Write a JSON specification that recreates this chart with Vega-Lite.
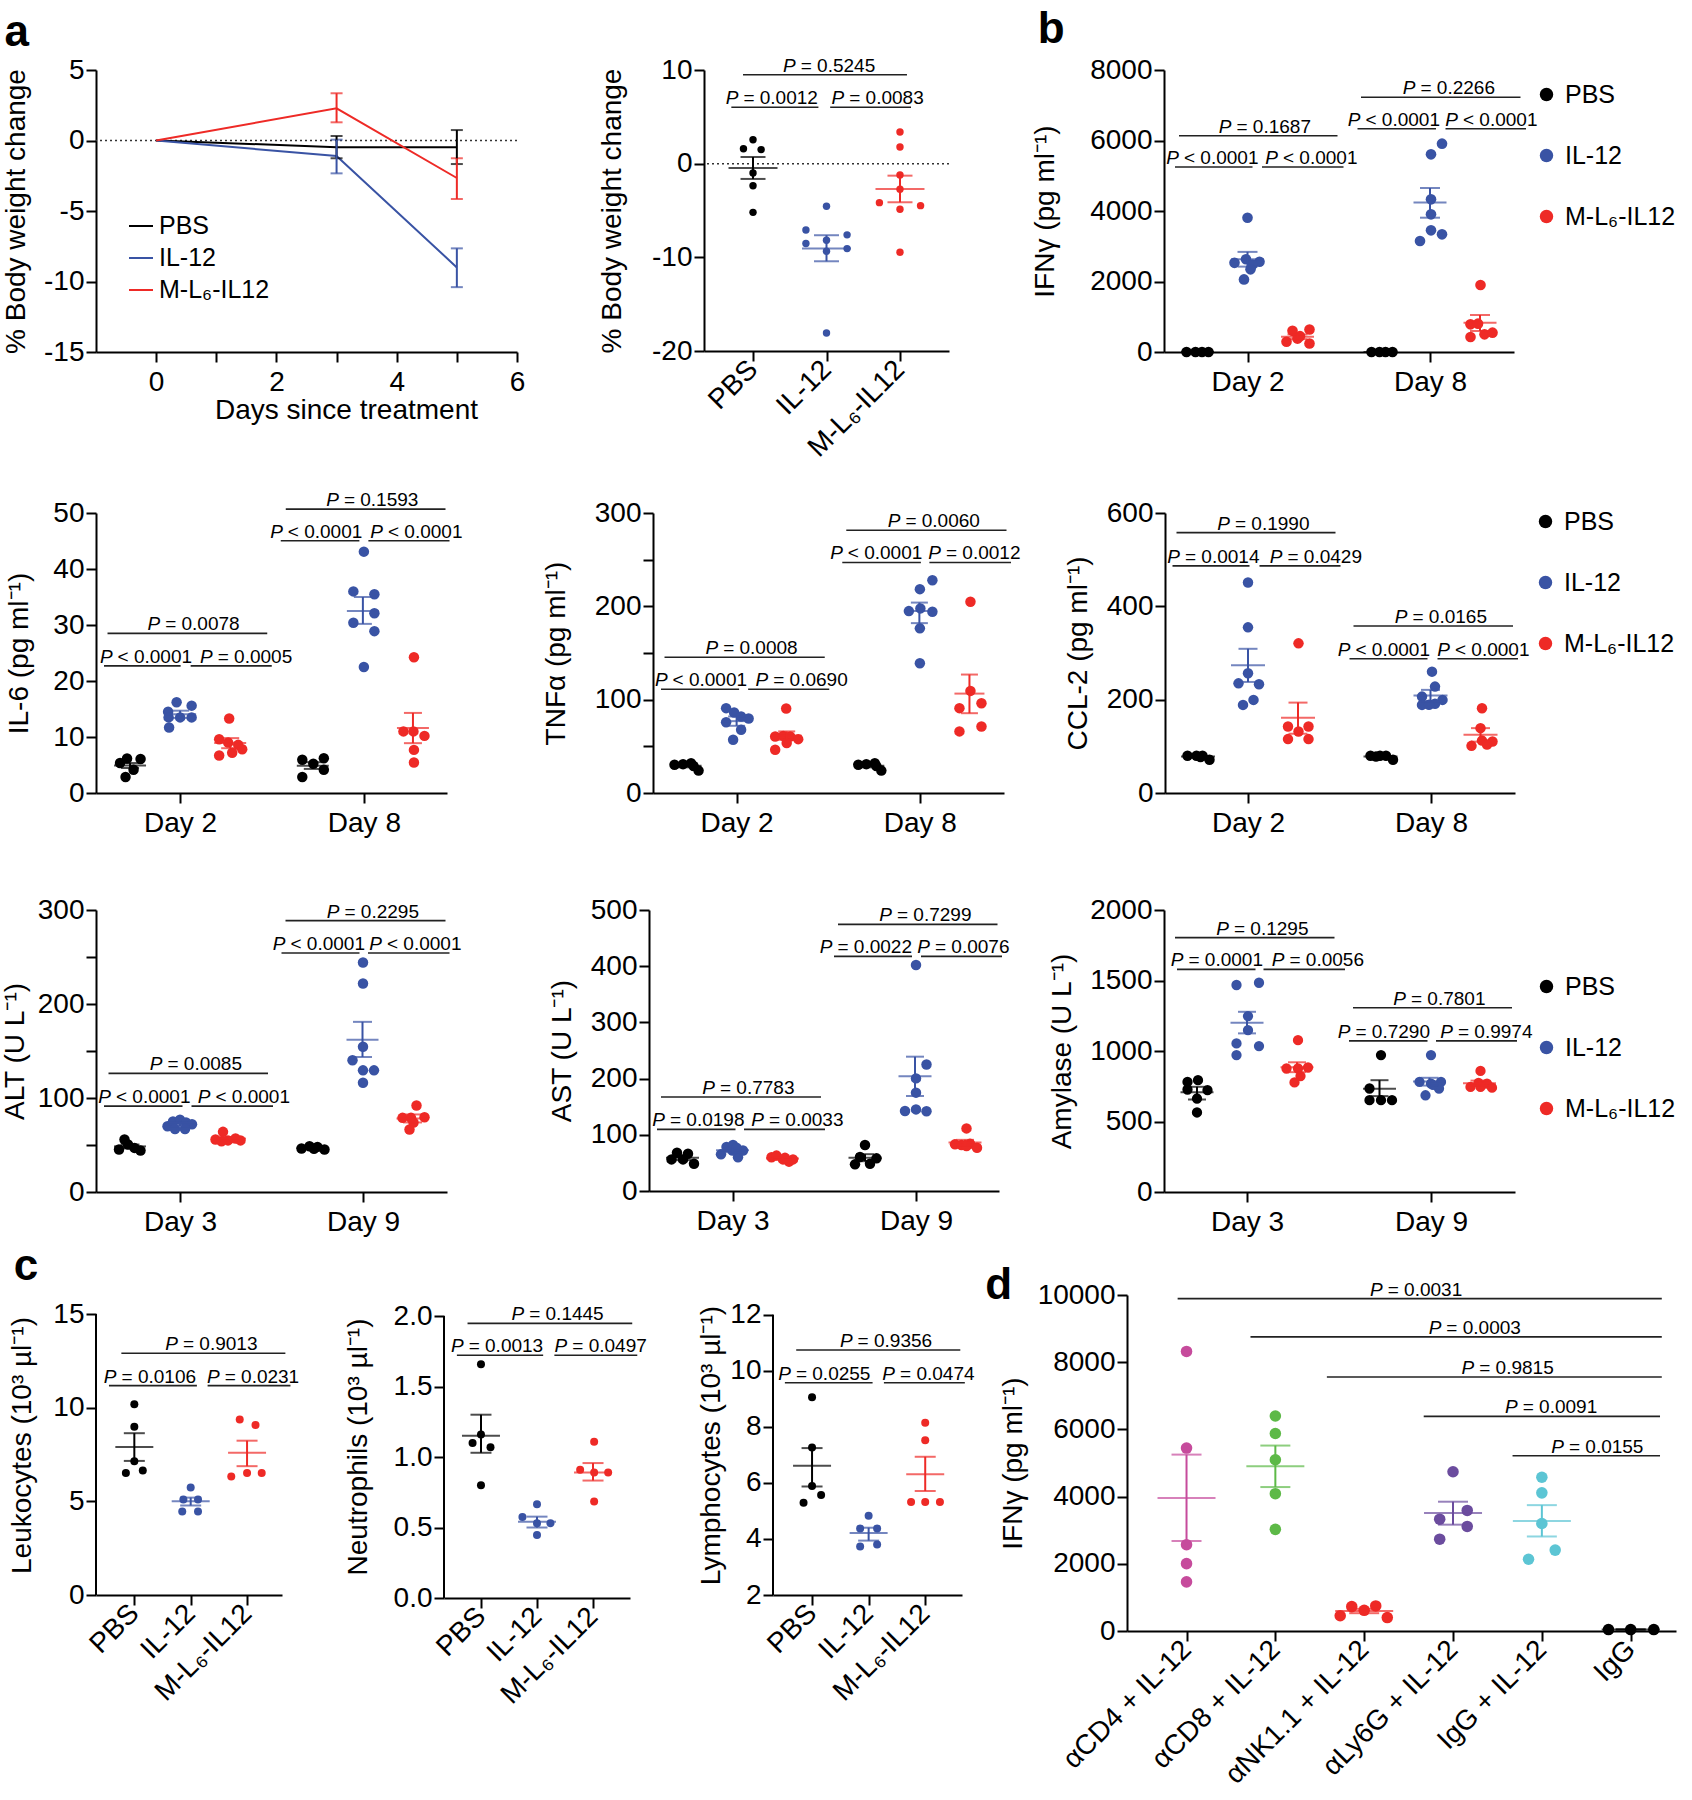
{
"$schema":"https://vega.github.io/schema/vega-lite/v6.json",
"background":"white",
"padding":{"left":1,"top":8,"right":5,"bottom":5},
"config":{
 "view":{"stroke":null},
 "font":"Liberation Sans",
 "axis":{"domainColor":"#000","domainWidth":2,"tickColor":"#000","tickWidth":2,"tickSize":10,"labelFont":"Liberation Sans","labelFontSize":28,"labelColor":"#000","labelPadding":2,"labelFlush":false,"labelOverlap":false,"labelBound":false,"labelLimit":600,"titleFont":"Liberation Sans","titleFontSize":28,"titleFontWeight":"normal","titleColor":"#000","grid":false},
 "axisX":{"labelPadding":6},
 "axisY":{"titlePadding":10},
 "legend":{"labelFont":"Liberation Sans","labelFontSize":25,"labelColor":"#000","padding":0},
 "title":{"font":"Liberation Sans","fontSize":44,"fontWeight":"bold","anchor":"start","frame":"bounds","color":"#000"}
},
"datasets":{
"pts":[
{"p":"a2","g":"P","x":1.0,"v":2.55},{"p":"a2","g":"P","x":0.87,"v":1.6},{"p":"a2","g":"P","x":1.11,"v":1.5},{"p":"a2","g":"P","x":1.0,"v":-1.0},{"p":"a2","g":"P","x":1.0,"v":-2.35},{"p":"a2","g":"P","x":1.0,"v":-5.2},
{"p":"a2","g":"I","x":2.0,"v":-4.55},{"p":"a2","g":"I","x":1.72,"v":-7.08},{"p":"a2","g":"I","x":2.28,"v":-7.6},{"p":"a2","g":"I","x":1.72,"v":-8.53},{"p":"a2","g":"I","x":2.0,"v":-8.18},{"p":"a2","g":"I","x":2.0,"v":-9.35},{"p":"a2","g":"I","x":2.28,"v":-9.07},{"p":"a2","g":"I","x":2.0,"v":-18.07},
{"p":"a2","g":"M","x":3.0,"v":3.38},{"p":"a2","g":"M","x":3.0,"v":1.78},{"p":"a2","g":"M","x":3.0,"v":-1.21},{"p":"a2","g":"M","x":3.0,"v":-2.73},{"p":"a2","g":"M","x":2.72,"v":-4.16},{"p":"a2","g":"M","x":3.28,"v":-4.48},{"p":"a2","g":"M","x":3.0,"v":-4.87},{"p":"a2","g":"M","x":3.0,"v":-9.46},
{"p":"b","g":"P","x":0.78,"v":0},{"p":"b","g":"P","x":0.96,"v":0},{"p":"b","g":"P","x":1.09,"v":0},{"p":"b","g":"P","x":1.22,"v":0},
{"p":"b","g":"I","x":2.0,"v":3810},{"p":"b","g":"I","x":1.74,"v":2530},{"p":"b","g":"I","x":1.97,"v":2630},{"p":"b","g":"I","x":2.24,"v":2560},{"p":"b","g":"I","x":2.1,"v":2480},{"p":"b","g":"I","x":2.06,"v":2345},{"p":"b","g":"I","x":1.93,"v":2060},
{"p":"b","g":"M","x":2.9,"v":600},{"p":"b","g":"M","x":3.24,"v":640},{"p":"b","g":"M","x":2.78,"v":290},{"p":"b","g":"M","x":3.05,"v":450},{"p":"b","g":"M","x":3.24,"v":240},{"p":"b","g":"M","x":3.0,"v":380},
{"p":"b","g":"P","x":4.48,"v":0},{"p":"b","g":"P","x":4.64,"v":0},{"p":"b","g":"P","x":4.76,"v":0},{"p":"b","g":"P","x":4.9,"v":0},
{"p":"b","g":"I","x":5.89,"v":5910},{"p":"b","g":"I","x":5.67,"v":5607},{"p":"b","g":"I","x":5.67,"v":4331},{"p":"b","g":"I","x":5.67,"v":3905},{"p":"b","g":"I","x":5.67,"v":3452},{"p":"b","g":"I","x":5.89,"v":3338},{"p":"b","g":"I","x":5.45,"v":3149},
{"p":"b","g":"M","x":6.66,"v":1901},{"p":"b","g":"M","x":6.46,"v":785},{"p":"b","g":"M","x":6.61,"v":804},{"p":"b","g":"M","x":6.46,"v":425},{"p":"b","g":"M","x":6.74,"v":501},{"p":"b","g":"M","x":6.9,"v":548},
{"p":"il6","g":"P","x":0.8,"v":5.35},{"p":"il6","g":"P","x":0.94,"v":6.17},{"p":"il6","g":"P","x":1.21,"v":6.06},{"p":"il6","g":"P","x":1.07,"v":4.16},{"p":"il6","g":"P","x":0.91,"v":2.85},
{"p":"il6","g":"I","x":1.93,"v":16.2},{"p":"il6","g":"I","x":1.76,"v":14.5},{"p":"il6","g":"I","x":2.23,"v":15.6},{"p":"il6","g":"I","x":1.77,"v":13.5},{"p":"il6","g":"I","x":2.0,"v":13.5},{"p":"il6","g":"I","x":2.23,"v":13.5},{"p":"il6","g":"I","x":1.78,"v":11.7},
{"p":"il6","g":"M","x":2.98,"v":13.3},{"p":"il6","g":"M","x":2.78,"v":9.6},{"p":"il6","g":"M","x":2.96,"v":9.0},{"p":"il6","g":"M","x":3.16,"v":8.6},{"p":"il6","g":"M","x":3.24,"v":7.8},{"p":"il6","g":"M","x":3.04,"v":7.2},{"p":"il6","g":"M","x":2.78,"v":6.7},
{"p":"il6","g":"P","x":4.44,"v":5.94},{"p":"il6","g":"P","x":4.66,"v":5.23},{"p":"il6","g":"P","x":4.87,"v":6.2},{"p":"il6","g":"P","x":4.87,"v":4.16},{"p":"il6","g":"P","x":4.44,"v":2.85},
{"p":"il6","g":"I","x":5.67,"v":43.1},{"p":"il6","g":"I","x":5.46,"v":36.0},{"p":"il6","g":"I","x":5.88,"v":35.5},{"p":"il6","g":"I","x":5.88,"v":32.1},{"p":"il6","g":"I","x":5.46,"v":30.4},{"p":"il6","g":"I","x":5.88,"v":28.9},{"p":"il6","g":"I","x":5.67,"v":22.5},
{"p":"il6","g":"M","x":6.67,"v":24.25},{"p":"il6","g":"M","x":6.46,"v":11.0},{"p":"il6","g":"M","x":6.66,"v":11.0},{"p":"il6","g":"M","x":6.88,"v":10.2},{"p":"il6","g":"M","x":6.67,"v":7.7},{"p":"il6","g":"M","x":6.67,"v":5.44},
{"p":"tnf","g":"P","x":0.76,"v":30.3},{"p":"tnf","g":"P","x":0.93,"v":30.9},{"p":"tnf","g":"P","x":1.09,"v":32},{"p":"tnf","g":"P","x":1.14,"v":29},{"p":"tnf","g":"P","x":1.24,"v":24},
{"p":"tnf","g":"I","x":1.79,"v":90.9},{"p":"tnf","g":"I","x":1.95,"v":86.2},{"p":"tnf","g":"I","x":2.09,"v":81.9},{"p":"tnf","g":"I","x":2.24,"v":79.8},{"p":"tnf","g":"I","x":1.79,"v":75.8},{"p":"tnf","g":"I","x":2.09,"v":67.7},{"p":"tnf","g":"I","x":1.93,"v":57},
{"p":"tnf","g":"M","x":2.99,"v":90.5},{"p":"tnf","g":"M","x":2.77,"v":60.5},{"p":"tnf","g":"M","x":2.93,"v":61.2},{"p":"tnf","g":"M","x":3.07,"v":60.5},{"p":"tnf","g":"M","x":3.23,"v":57.7},{"p":"tnf","g":"M","x":2.77,"v":46.4},{"p":"tnf","g":"M","x":3.0,"v":53.6},
{"p":"tnf","g":"P","x":4.43,"v":30.3},{"p":"tnf","g":"P","x":4.59,"v":30.9},{"p":"tnf","g":"P","x":4.76,"v":32},{"p":"tnf","g":"P","x":4.79,"v":29},{"p":"tnf","g":"P","x":4.89,"v":24},
{"p":"tnf","g":"I","x":5.91,"v":228},{"p":"tnf","g":"I","x":5.66,"v":218.4},{"p":"tnf","g":"I","x":5.44,"v":194.9},{"p":"tnf","g":"I","x":5.67,"v":197.8},{"p":"tnf","g":"I","x":5.91,"v":194.2},{"p":"tnf","g":"I","x":5.66,"v":176.4},{"p":"tnf","g":"I","x":5.66,"v":139},
{"p":"tnf","g":"M","x":6.67,"v":204.9},{"p":"tnf","g":"M","x":6.67,"v":109.4},{"p":"tnf","g":"M","x":6.45,"v":90.9},{"p":"tnf","g":"M","x":6.89,"v":96.2},{"p":"tnf","g":"M","x":6.89,"v":71.3},{"p":"tnf","g":"M","x":6.45,"v":66},
{"p":"ccl","g":"P","x":0.79,"v":79.8},{"p":"ccl","g":"P","x":0.97,"v":79.8},{"p":"ccl","g":"P","x":1.09,"v":79.8},{"p":"ccl","g":"P","x":1.23,"v":71.2},{"p":"ccl","g":"P","x":1.05,"v":77},
{"p":"ccl","g":"I","x":2.0,"v":451},{"p":"ccl","g":"I","x":2.0,"v":355},{"p":"ccl","g":"I","x":2.0,"v":256.6},{"p":"ccl","g":"I","x":1.81,"v":235},{"p":"ccl","g":"I","x":2.22,"v":233},{"p":"ccl","g":"I","x":2.11,"v":199.5},{"p":"ccl","g":"I","x":1.9,"v":188.8},
{"p":"ccl","g":"M","x":3.01,"v":320.7},{"p":"ccl","g":"M","x":2.8,"v":142.4},{"p":"ccl","g":"M","x":3.21,"v":142.4},{"p":"ccl","g":"M","x":3.01,"v":131.7},{"p":"ccl","g":"M","x":2.8,"v":115.5},{"p":"ccl","g":"M","x":3.21,"v":115.5},
{"p":"ccl","g":"P","x":4.45,"v":79.8},{"p":"ccl","g":"P","x":4.64,"v":79.8},{"p":"ccl","g":"P","x":4.76,"v":79.8},{"p":"ccl","g":"P","x":4.9,"v":71.2},{"p":"ccl","g":"P","x":4.56,"v":78},
{"p":"ccl","g":"I","x":5.68,"v":260},{"p":"ccl","g":"I","x":5.74,"v":228},{"p":"ccl","g":"I","x":5.48,"v":206.6},{"p":"ccl","g":"I","x":5.89,"v":199.5},{"p":"ccl","g":"I","x":5.48,"v":188.8},{"p":"ccl","g":"I","x":5.74,"v":191.2},{"p":"ccl","g":"I","x":5.62,"v":189},
{"p":"ccl","g":"M","x":6.68,"v":181.7},{"p":"ccl","g":"M","x":6.65,"v":139},{"p":"ccl","g":"M","x":6.47,"v":101},{"p":"ccl","g":"M","x":6.68,"v":112.3},{"p":"ccl","g":"M","x":6.89,"v":110.2},{"p":"ccl","g":"M","x":6.78,"v":104},
{"p":"alt","g":"P","x":0.78,"v":45.2},{"p":"alt","g":"P","x":0.89,"v":55.9},{"p":"alt","g":"P","x":0.96,"v":50.5},{"p":"alt","g":"P","x":1.09,"v":46.9},{"p":"alt","g":"P","x":1.21,"v":44.1},
{"p":"alt","g":"I","x":1.75,"v":70},{"p":"alt","g":"I","x":1.86,"v":75},{"p":"alt","g":"I","x":2.0,"v":77},{"p":"alt","g":"I","x":2.12,"v":74},{"p":"alt","g":"I","x":2.24,"v":72},{"p":"alt","g":"I","x":1.9,"v":67},{"p":"alt","g":"I","x":2.1,"v":67},
{"p":"alt","g":"M","x":2.86,"v":64},{"p":"alt","g":"M","x":2.71,"v":55.9},{"p":"alt","g":"M","x":2.96,"v":54.9},{"p":"alt","g":"M","x":3.11,"v":57},{"p":"alt","g":"M","x":3.21,"v":54.9},{"p":"alt","g":"M","x":2.83,"v":54},
{"p":"alt","g":"P","x":4.43,"v":46.2},{"p":"alt","g":"P","x":4.59,"v":48.7},{"p":"alt","g":"P","x":4.75,"v":48},{"p":"alt","g":"P","x":4.89,"v":45.2},{"p":"alt","g":"P","x":4.68,"v":46},
{"p":"alt","g":"I","x":5.66,"v":244.2},{"p":"alt","g":"I","x":5.66,"v":221.8},{"p":"alt","g":"I","x":5.66,"v":154.6},{"p":"alt","g":"I","x":5.45,"v":140.1},{"p":"alt","g":"I","x":5.66,"v":129.4},{"p":"alt","g":"I","x":5.88,"v":129.4},{"p":"alt","g":"I","x":5.66,"v":116.2},
{"p":"alt","g":"M","x":6.73,"v":92.1},{"p":"alt","g":"M","x":6.45,"v":78.9},{"p":"alt","g":"M","x":6.62,"v":78.9},{"p":"alt","g":"M","x":6.89,"v":79.6},{"p":"alt","g":"M","x":6.67,"v":74},{"p":"alt","g":"M","x":6.59,"v":66.5},
{"p":"ast","g":"P","x":0.78,"v":56.2},{"p":"ast","g":"P","x":0.89,"v":68.1},{"p":"ast","g":"P","x":1.01,"v":56.2},{"p":"ast","g":"P","x":1.11,"v":66.3},{"p":"ast","g":"P","x":1.23,"v":48.6},
{"p":"ast","g":"I","x":1.77,"v":65.2},{"p":"ast","g":"I","x":1.88,"v":78.3},{"p":"ast","g":"I","x":2.01,"v":81.8},{"p":"ast","g":"I","x":2.11,"v":60.1},{"p":"ast","g":"I","x":2.21,"v":72},{"p":"ast","g":"I","x":2.0,"v":72},{"p":"ast","g":"I","x":2.08,"v":77},
{"p":"ast","g":"M","x":2.78,"v":60.1},{"p":"ast","g":"M","x":2.88,"v":63},{"p":"ast","g":"M","x":3.01,"v":56.2},{"p":"ast","g":"M","x":3.13,"v":52.2},{"p":"ast","g":"M","x":3.21,"v":56.2},{"p":"ast","g":"M","x":3.05,"v":59},
{"p":"ast","g":"P","x":4.65,"v":81.8},{"p":"ast","g":"P","x":4.45,"v":47.4},{"p":"ast","g":"P","x":4.75,"v":48.6},{"p":"ast","g":"P","x":4.88,"v":58.1},{"p":"ast","g":"P","x":4.55,"v":60.4},
{"p":"ast","g":"I","x":5.67,"v":402},{"p":"ast","g":"I","x":5.88,"v":225},{"p":"ast","g":"I","x":5.67,"v":200.4},{"p":"ast","g":"I","x":5.67,"v":175},{"p":"ast","g":"I","x":5.45,"v":142.3},{"p":"ast","g":"I","x":5.67,"v":145.2},{"p":"ast","g":"I","x":5.88,"v":142},
{"p":"ast","g":"M","x":6.68,"v":111.4},{"p":"ast","g":"M","x":6.45,"v":83},{"p":"ast","g":"M","x":6.58,"v":81.8},{"p":"ast","g":"M","x":6.75,"v":84.2},{"p":"ast","g":"M","x":6.89,"v":77},{"p":"ast","g":"M","x":6.68,"v":80},
{"p":"amy","g":"P","x":0.81,"v":781},{"p":"amy","g":"P","x":1.02,"v":793},{"p":"amy","g":"P","x":1.21,"v":722},{"p":"amy","g":"P","x":1.0,"v":663},{"p":"amy","g":"P","x":1.0,"v":564},{"p":"amy","g":"P","x":0.81,"v":727},
{"p":"amy","g":"I","x":1.79,"v":1468},{"p":"amy","g":"I","x":2.24,"v":1484},{"p":"amy","g":"I","x":2.02,"v":1248},{"p":"amy","g":"I","x":2.02,"v":1148},{"p":"amy","g":"I","x":1.79,"v":1054},{"p":"amy","g":"I","x":2.24,"v":1035},{"p":"amy","g":"I","x":1.79,"v":971},
{"p":"amy","g":"M","x":3.02,"v":1077},{"p":"amy","g":"M","x":2.79,"v":876},{"p":"amy","g":"M","x":3.22,"v":883},{"p":"amy","g":"M","x":3.02,"v":876},{"p":"amy","g":"M","x":3.07,"v":822},{"p":"amy","g":"M","x":2.95,"v":777},
{"p":"amy","g":"P","x":4.68,"v":971},{"p":"amy","g":"P","x":4.45,"v":734},{"p":"amy","g":"P","x":4.45,"v":651},{"p":"amy","g":"P","x":4.68,"v":651},{"p":"amy","g":"P","x":4.9,"v":651},
{"p":"amy","g":"I","x":5.68,"v":971},{"p":"amy","g":"I","x":5.45,"v":781},{"p":"amy","g":"I","x":5.88,"v":781},{"p":"amy","g":"I","x":5.68,"v":769},{"p":"amy","g":"I","x":5.57,"v":686},{"p":"amy","g":"I","x":5.84,"v":734},{"p":"amy","g":"I","x":5.72,"v":760},
{"p":"amy","g":"M","x":6.67,"v":859},{"p":"amy","g":"M","x":6.47,"v":745},{"p":"amy","g":"M","x":6.63,"v":774},{"p":"amy","g":"M","x":6.8,"v":769},{"p":"amy","g":"M","x":6.9,"v":740},{"p":"amy","g":"M","x":6.67,"v":745},
{"p":"leu","g":"P","x":1.0,"v":10.19},{"p":"leu","g":"P","x":1.0,"v":8.99},{"p":"leu","g":"P","x":1.0,"v":7.14},{"p":"leu","g":"P","x":0.85,"v":6.52},{"p":"leu","g":"P","x":1.15,"v":6.65},
{"p":"leu","g":"I","x":2.0,"v":5.74},{"p":"leu","g":"I","x":1.87,"v":5.1},{"p":"leu","g":"I","x":2.13,"v":5.1},{"p":"leu","g":"I","x":1.85,"v":4.46},{"p":"leu","g":"I","x":2.13,"v":4.46},
{"p":"leu","g":"M","x":2.87,"v":9.37},{"p":"leu","g":"M","x":3.15,"v":9.08},{"p":"leu","g":"M","x":2.72,"v":6.33},{"p":"leu","g":"M","x":3.0,"v":6.52},{"p":"leu","g":"M","x":3.26,"v":6.52},
{"p":"neu","g":"P","x":1.0,"v":1.657},{"p":"neu","g":"P","x":0.85,"v":1.1},{"p":"neu","g":"P","x":1.17,"v":1.07},{"p":"neu","g":"P","x":1.0,"v":1.16},{"p":"neu","g":"P","x":1.0,"v":0.8},
{"p":"neu","g":"I","x":2.0,"v":0.665},{"p":"neu","g":"I","x":1.74,"v":0.575},{"p":"neu","g":"I","x":2.24,"v":0.531},{"p":"neu","g":"I","x":2.0,"v":0.53},{"p":"neu","g":"I","x":2.0,"v":0.446},
{"p":"neu","g":"M","x":3.02,"v":1.108},{"p":"neu","g":"M","x":2.77,"v":0.91},{"p":"neu","g":"M","x":3.02,"v":0.89},{"p":"neu","g":"M","x":3.27,"v":0.89},{"p":"neu","g":"M","x":3.02,"v":0.685},
{"p":"lym","g":"P","x":1.0,"v":9.05},{"p":"lym","g":"P","x":1.0,"v":7.26},{"p":"lym","g":"P","x":1.0,"v":5.89},{"p":"lym","g":"P","x":0.85,"v":5.29},{"p":"lym","g":"P","x":1.16,"v":5.57},
{"p":"lym","g":"I","x":2.0,"v":4.83},{"p":"lym","g":"I","x":1.85,"v":4.375},{"p":"lym","g":"I","x":2.15,"v":4.375},{"p":"lym","g":"I","x":1.85,"v":3.73},{"p":"lym","g":"I","x":2.15,"v":3.8},
{"p":"lym","g":"M","x":3.0,"v":8.14},{"p":"lym","g":"M","x":3.0,"v":7.52},{"p":"lym","g":"M","x":2.75,"v":5.32},{"p":"lym","g":"M","x":3.0,"v":5.32},{"p":"lym","g":"M","x":3.26,"v":5.32},
{"p":"d","g":"d1","x":1,"v":8320},{"p":"d","g":"d1","x":1,"v":5445},{"p":"d","g":"d1","x":1,"v":2569},{"p":"d","g":"d1","x":1,"v":2005},{"p":"d","g":"d1","x":1,"v":1462},
{"p":"d","g":"d2","x":2,"v":6399},{"p":"d","g":"d2","x":2,"v":5877},{"p":"d","g":"d2","x":2,"v":5098},{"p":"d","g":"d2","x":2,"v":4088},{"p":"d","g":"d2","x":2,"v":3025},
{"p":"d","g":"d3","x":2.73,"v":454},{"p":"d","g":"d3","x":2.86,"v":725},{"p":"d","g":"d3","x":3.0,"v":616},{"p":"d","g":"d3","x":3.13,"v":747},{"p":"d","g":"d3","x":3.26,"v":399},
{"p":"d","g":"d4","x":4.0,"v":4740},{"p":"d","g":"d4","x":3.85,"v":3329},{"p":"d","g":"d4","x":4.16,"v":3589},{"p":"d","g":"d4","x":4.16,"v":3112},{"p":"d","g":"d4","x":3.85,"v":2733},
{"p":"d","g":"d5","x":5.0,"v":4577},{"p":"d","g":"d5","x":5.0,"v":4111},{"p":"d","g":"d5","x":5.0,"v":3198},{"p":"d","g":"d5","x":5.15,"v":2407},{"p":"d","g":"d5","x":4.85,"v":2136},
{"p":"d","g":"d6","x":5.75,"v":42},{"p":"d","g":"d6","x":6.0,"v":42},{"p":"d","g":"d6","x":6.26,"v":42}
],
"sm":[
{"p":"a2","g":"P","x":1,"m":-0.46,"lo":-1.63,"hi":0.71},{"p":"a2","g":"I","x":2,"m":-9.07,"lo":-10.42,"hi":-7.64},{"p":"a2","g":"M","x":3,"m":-2.7,"lo":-4.12,"hi":-1.28},
{"p":"b","g":"P","x":1,"m":0,"lo":0,"hi":0},{"p":"b","g":"I","x":2,"m":2631,"lo":2422,"hi":2840},{"p":"b","g":"M","x":3,"m":433,"lo":365,"hi":500},{"p":"b","g":"P","x":4.65,"m":0,"lo":0,"hi":0},{"p":"b","g":"I","x":5.65,"m":4242,"lo":3810,"hi":4652},{"p":"b","g":"M","x":6.65,"m":827,"lo":596,"hi":1050},
{"p":"il6","g":"P","x":1,"m":4.92,"lo":4.46,"hi":5.35},{"p":"il6","g":"I","x":2,"m":14.07,"lo":13.4,"hi":14.7},{"p":"il6","g":"M","x":3,"m":8.92,"lo":8.0,"hi":9.8},{"p":"il6","g":"P","x":4.65,"m":4.88,"lo":4.3,"hi":5.5},{"p":"il6","g":"I","x":5.65,"m":32.5,"lo":30.2,"hi":35.0},{"p":"il6","g":"M","x":6.65,"m":11.6,"lo":8.9,"hi":14.3},
{"p":"tnf","g":"P","x":1,"m":29.2,"lo":27.5,"hi":31},{"p":"tnf","g":"I","x":2,"m":77.0,"lo":72,"hi":82},{"p":"tnf","g":"M","x":3,"m":61.5,"lo":57,"hi":66},{"p":"tnf","g":"P","x":4.65,"m":29.2,"lo":27.5,"hi":31},{"p":"tnf","g":"I","x":5.65,"m":195,"lo":182,"hi":204},{"p":"tnf","g":"M","x":6.65,"m":106.5,"lo":85.5,"hi":126.9},
{"p":"ccl","g":"P","x":1,"m":78,"lo":76,"hi":80},{"p":"ccl","g":"I","x":2,"m":274,"lo":238,"hi":309},{"p":"ccl","g":"M","x":3,"m":161.4,"lo":127,"hi":193.7},{"p":"ccl","g":"P","x":4.65,"m":78,"lo":76,"hi":80},{"p":"ccl","g":"I","x":5.65,"m":208.7,"lo":197,"hi":221},{"p":"ccl","g":"M","x":6.65,"m":124.7,"lo":110,"hi":139},
{"p":"alt","g":"P","x":1,"m":48.5,"lo":46.5,"hi":50.5},{"p":"alt","g":"I","x":2,"m":71.7,"lo":70,"hi":73.5},{"p":"alt","g":"M","x":3,"m":56.8,"lo":55,"hi":58.5},{"p":"alt","g":"P","x":4.65,"m":46.8,"lo":45.8,"hi":47.8},{"p":"alt","g":"I","x":5.65,"m":162,"lo":143.6,"hi":181},{"p":"alt","g":"M","x":6.65,"m":78.3,"lo":74,"hi":82.5},
{"p":"ast","g":"P","x":1,"m":59,"lo":55,"hi":63},{"p":"ast","g":"I","x":2,"m":72.3,"lo":69,"hi":75.5},{"p":"ast","g":"M","x":3,"m":57.8,"lo":56,"hi":59.6},{"p":"ast","g":"P","x":4.65,"m":59.3,"lo":53,"hi":65.5},{"p":"ast","g":"I","x":5.65,"m":204.4,"lo":169,"hi":239},{"p":"ast","g":"M","x":6.65,"m":86.2,"lo":81,"hi":91},
{"p":"amy","g":"P","x":1,"m":708,"lo":656,"hi":746},{"p":"amy","g":"I","x":2,"m":1201,"lo":1125,"hi":1278},{"p":"amy","g":"M","x":3,"m":885,"lo":850,"hi":920},{"p":"amy","g":"P","x":4.65,"m":732,"lo":680,"hi":793},{"p":"amy","g":"I","x":5.65,"m":783,"lo":755,"hi":810},{"p":"amy","g":"M","x":6.65,"m":772,"lo":755,"hi":790},
{"p":"leu","g":"P","x":1,"m":7.9,"lo":7.16,"hi":8.64},{"p":"leu","g":"I","x":2,"m":5.0,"lo":4.78,"hi":5.2},{"p":"leu","g":"M","x":3,"m":7.59,"lo":6.88,"hi":8.24},
{"p":"neu","g":"P","x":1,"m":1.15,"lo":1.03,"hi":1.3},{"p":"neu","g":"I","x":2,"m":0.541,"lo":0.5,"hi":0.577},{"p":"neu","g":"M","x":3,"m":0.89,"lo":0.833,"hi":0.957},
{"p":"lym","g":"P","x":1,"m":6.61,"lo":5.87,"hi":7.24},{"p":"lym","g":"I","x":2,"m":4.21,"lo":3.94,"hi":4.4},{"p":"lym","g":"M","x":3,"m":6.31,"lo":5.71,"hi":6.93},
{"p":"d","g":"d1","x":1,"m":3959,"lo":2679,"hi":5250},{"p":"d","g":"d2","x":2,"m":4902,"lo":4284,"hi":5519},{"p":"d","g":"d3","x":3,"m":598,"lo":530,"hi":660},{"p":"d","g":"d4","x":4,"m":3514,"lo":3165,"hi":3848},{"p":"d","g":"d5","x":5,"m":3276,"lo":2813,"hi":3746},{"p":"d","g":"d6","x":6,"m":42,"lo":42,"hi":42}
],
"pv":[
{"p":"a2","x1":0.864,"x2":3.095,"y":9.5,"tx":2.03,"t":"= 0.5245"},{"p":"a2","x1":0.705,"x2":1.89,"y":6.02,"tx":1.25,"t":"= 0.0012"},{"p":"a2","x1":2.05,"x2":3.15,"y":6.02,"tx":2.69,"t":"= 0.0083"},
{"p":"b","x1":0.63,"x2":3.8,"y":6136,"tx":2.34,"t":"= 0.1687"},{"p":"b","x1":0.55,"x2":2.1,"y":5248,"tx":1.29,"t":"< 0.0001"},{"p":"b","x1":2.29,"x2":3.92,"y":5248,"tx":3.27,"t":"< 0.0001"},{"p":"b","x1":4.27,"x2":7.46,"y":7225,"tx":6.02,"t":"= 0.2266"},{"p":"b","x1":4.2,"x2":5.77,"y":6335,"tx":4.92,"t":"< 0.0001"},{"p":"b","x1":5.96,"x2":7.57,"y":6335,"tx":6.87,"t":"< 0.0001"},
{"p":"il6","x1":0.55,"x2":3.74,"y":28.5,"tx":2.26,"t":"= 0.0078"},{"p":"il6","x1":0.48,"x2":2.01,"y":22.7,"tx":1.31,"t":"< 0.0001"},{"p":"il6","x1":2.21,"x2":3.83,"y":22.7,"tx":3.31,"t":"= 0.0005"},{"p":"il6","x1":4.11,"x2":7.3,"y":50.7,"tx":5.83,"t":"= 0.1593"},{"p":"il6","x1":4.01,"x2":5.58,"y":45.05,"tx":4.71,"t":"< 0.0001"},{"p":"il6","x1":5.76,"x2":7.38,"y":45.05,"tx":6.71,"t":"< 0.0001"},
{"p":"tnf","x1":0.56,"x2":3.76,"y":145.4,"tx":2.29,"t":"= 0.0008"},{"p":"tnf","x1":0.49,"x2":2.05,"y":111.2,"tx":1.28,"t":"< 0.0001"},{"p":"tnf","x1":2.23,"x2":3.85,"y":111.2,"tx":3.29,"t":"= 0.0690"},{"p":"tnf","x1":4.19,"x2":7.39,"y":281.5,"tx":5.93,"t":"= 0.0060"},{"p":"tnf","x1":4.11,"x2":5.68,"y":247,"tx":4.78,"t":"< 0.0001"},{"p":"tnf","x1":5.85,"x2":7.48,"y":247,"tx":6.74,"t":"= 0.0012"},
{"p":"ccl","x1":0.57,"x2":3.75,"y":558,"tx":2.3,"t":"= 0.1990"},{"p":"ccl","x1":0.49,"x2":2.03,"y":486.6,"tx":1.3,"t":"= 0.0014"},{"p":"ccl","x1":2.23,"x2":3.85,"y":486.6,"tx":3.35,"t":"= 0.0429"},{"p":"ccl","x1":4.11,"x2":7.3,"y":357.7,"tx":5.85,"t":"= 0.0165"},{"p":"ccl","x1":4.03,"x2":5.59,"y":287.8,"tx":4.71,"t":"< 0.0001"},{"p":"ccl","x1":5.79,"x2":7.4,"y":287.8,"tx":6.7,"t":"< 0.0001"},
{"p":"alt","x1":0.57,"x2":3.76,"y":126.2,"tx":2.31,"t":"= 0.0085"},{"p":"alt","x1":0.48,"x2":2.05,"y":91.4,"tx":1.28,"t":"< 0.0001"},{"p":"alt","x1":2.23,"x2":3.86,"y":91.4,"tx":3.27,"t":"< 0.0001"},{"p":"alt","x1":4.11,"x2":7.31,"y":288.7,"tx":5.85,"t":"= 0.2295"},{"p":"alt","x1":4.03,"x2":5.59,"y":254.2,"tx":4.77,"t":"< 0.0001"},{"p":"alt","x1":5.76,"x2":7.39,"y":254.2,"tx":6.7,"t":"< 0.0001"},
{"p":"ast","x1":0.57,"x2":3.77,"y":167.3,"tx":2.31,"t":"= 0.7783"},{"p":"ast","x1":0.49,"x2":2.06,"y":109.6,"tx":1.31,"t":"= 0.0198"},{"p":"ast","x1":2.23,"x2":3.85,"y":109.6,"tx":3.29,"t":"= 0.0033"},{"p":"ast","x1":4.11,"x2":7.3,"y":474.4,"tx":5.85,"t":"= 0.7299"},{"p":"ast","x1":4.03,"x2":5.59,"y":417.4,"tx":4.66,"t":"= 0.0022"},{"p":"ast","x1":5.77,"x2":7.39,"y":417.4,"tx":6.61,"t":"= 0.0076"},
{"p":"amy","x1":0.56,"x2":3.75,"y":1804,"tx":2.3,"t":"= 0.1295"},{"p":"amy","x1":0.6,"x2":2.17,"y":1579,"tx":1.39,"t":"= 0.0001"},{"p":"amy","x1":2.33,"x2":3.96,"y":1579,"tx":3.41,"t":"= 0.0056"},{"p":"amy","x1":4.12,"x2":7.3,"y":1307,"tx":5.84,"t":"= 0.7801"},{"p":"amy","x1":4.04,"x2":5.61,"y":1072,"tx":4.73,"t":"= 0.7290"},{"p":"amy","x1":5.78,"x2":7.4,"y":1072,"tx":6.78,"t":"= 0.9974"},
{"p":"leu","x1":0.77,"x2":3.68,"y":12.91,"tx":2.36,"t":"= 0.9013"},{"p":"leu","x1":0.55,"x2":2.11,"y":11.18,"tx":1.27,"t":"= 0.0106"},{"p":"leu","x1":2.3,"x2":3.77,"y":11.18,"tx":3.1,"t":"= 0.0231"},
{"p":"neu","x1":0.76,"x2":3.7,"y":1.948,"tx":2.36,"t":"= 0.1445"},{"p":"neu","x1":0.57,"x2":2.11,"y":1.722,"tx":1.28,"t":"= 0.0013"},{"p":"neu","x1":2.31,"x2":3.79,"y":1.722,"tx":3.13,"t":"= 0.0497"},
{"p":"lym","x1":0.72,"x2":3.62,"y":10.74,"tx":2.3,"t":"= 0.9356"},{"p":"lym","x1":0.52,"x2":2.07,"y":9.57,"tx":1.21,"t":"= 0.0255"},{"p":"lym","x1":2.27,"x2":3.7,"y":9.57,"tx":3.05,"t":"= 0.0474"},
{"p":"d","x1":0.9,"x2":6.35,"y":9893,"tx":3.58,"t":"= 0.0031"},{"p":"d","x1":1.72,"x2":6.35,"y":8753,"tx":4.24,"t":"= 0.0003"},{"p":"d","x1":2.58,"x2":6.35,"y":7560,"tx":4.61,"t":"= 0.9815"},{"p":"d","x1":3.67,"x2":6.33,"y":6387,"tx":5.1,"t":"= 0.0091"},{"p":"d","x1":4.67,"x2":6.33,"y":5218,"tx":5.62,"t":"= 0.0155"}
],
"a1":[
{"g":"P","d":0,"m":0},{"g":"P","d":3,"m":-0.47},{"g":"P","d":5,"m":-0.48},
{"g":"I","d":0,"m":0},{"g":"I","d":3,"m":-1.1},{"g":"I","d":5,"m":-9.0},
{"g":"M","d":0,"m":0},{"g":"M","d":3,"m":2.28},{"g":"M","d":5,"m":-2.66}
],
"a1e":[
{"g":"P","d":3,"lo":-1.26,"hi":0.32},{"g":"P","d":5,"lo":-1.67,"hi":0.74},
{"g":"I","d":3,"lo":-2.33,"hi":0.06},{"g":"I","d":5,"lo":-10.4,"hi":-7.65},
{"g":"M","d":3,"lo":1.29,"hi":3.35},{"g":"M","d":5,"lo":-4.15,"hi":-1.26}
]
},
"spacing":28,
"resolve":{"scale":{"color":"independent"},"legend":{"color":"independent"}},
"vconcat":[
{"bounds":"flush","spacing":0,"resolve":{"scale":{"color":"independent"},"legend":{"color":"independent"}},
 "hconcat":[
 {"width":421,"height":282,"title":{"text":"a","dx":2,"dy":3},
  "layer":[
   {"data":{"values":[{}]},"mark":{"type":"rule","strokeDash":[2,3],"strokeWidth":1.5,"color":"#333"},"encoding":{"y":{"datum":0,"type":"quantitative"}}},
   {"data":{"name":"a1"},"mark":{"type":"line","strokeWidth":2},
    "encoding":{"x":{"field":"d","type":"quantitative","scale":{"domain":[-1,6],"nice":false,"zero":false},"axis":{"values":[0,1,2,3,4,5,6],"format":"d","labelExpr":"datum.value%2==0?datum.label:''","title":"Days since treatment","titleX":250,"titlePadding":0}},
     "y":{"field":"m","type":"quantitative","scale":{"domain":[-15,5],"nice":false},"axis":{"values":[-15,-10,-5,0,5],"labelExpr":"replace(datum.label,'−','-')","title":"% Body weight change","titlePadding":13}},
     "color":{"field":"g","type":"nominal","scale":{"domain":["P","I","M"],"range":["#000000","#3953A4","#EE2A26"]},"legend":{"orient":"none","legendX":32,"legendY":143,"symbolType":"stroke","symbolSize":576,"symbolStrokeWidth":2,"rowPadding":6,"labelOffset":5,"title":null,"labelExpr":"datum.value=='P'?'PBS':datum.value=='I'?'IL-12':'M-L₆-IL12'"}}}},
   {"data":{"name":"a1e"},"mark":{"type":"errorbar","ticks":true,"size":12,"thickness":2},
    "encoding":{"x":{"field":"d","type":"quantitative"},"y":{"field":"lo","type":"quantitative","title":"% Body weight change"},"y2":{"field":"hi"},"color":{"field":"g","type":"nominal","legend":null}}}
  ]},
 {"width":187,"height":1,"data":{"values":[]},"mark":"point"},
 {"width":245,"height":281,
  "layer":[
   {"data":{"values":[{}]},"mark":{"type":"rule","strokeDash":[2,3],"strokeWidth":1.5,"color":"#333"},"encoding":{"y":{"datum":0,"type":"quantitative"}}},
   {"data":{"name":"pts"},"transform":[{"filter":"datum.p=='a2'"}],"mark":{"type":"circle","size":55,"opacity":1},
    "encoding":{"x":{"field":"x","type":"quantitative","scale":{"domain":[0.333,3.667],"nice":false,"zero":false},"axis":{"values":[1,2,3],"labelExpr":"['PBS','IL-12','M-L₆-IL12'][datum.value-1]","labelAngle":-45,"labelAlign":"right","labelBaseline":"middle","labelPadding":4,"title":null}},
     "y":{"field":"v","type":"quantitative","scale":{"domain":[-20,10],"nice":false},"axis":{"values":[-20,-10,0,10],"labelExpr":"replace(datum.label,'−','-')","title":"% Body weight change","titlePadding":25}},
     "color":{"field":"g","type":"nominal","scale":{"domain":["P","I","M"],"range":["#000000","#3953A4","#EE2A26"]},"legend":null}}},
   {"data":{"name":"sm"},"transform":[{"filter":"datum.p=='a2'"}],"mark":{"type":"tick","orient":"horizontal","size":49,"thickness":2},"encoding":{"x":{"field":"x","type":"quantitative"},"y":{"field":"m","type":"quantitative"},"color":{"field":"g","type":"nominal","legend":null}}},
   {"data":{"name":"sm"},"transform":[{"filter":"datum.p=='a2'"}],"mark":{"type":"errorbar","ticks":true,"size":25,"thickness":2},"encoding":{"x":{"field":"x","type":"quantitative"},"y":{"field":"lo","type":"quantitative","title":"% Body weight change"},"y2":{"field":"hi"},"color":{"field":"g","type":"nominal","legend":null}}},
   {"data":{"name":"pv"},"transform":[{"filter":"datum.p=='a2'"}],"mark":{"type":"rule","color":"#222","strokeWidth":1.6},"encoding":{"x":{"field":"x1","type":"quantitative"},"x2":{"field":"x2"},"y":{"field":"y","type":"quantitative"}}},
   {"data":{"name":"pv"},"transform":[{"filter":"datum.p=='a2'"}],"mark":{"type":"text","text":"P","fontStyle":"italic","fontSize":19,"align":"right","baseline":"alphabetic","dx":-33,"dy":-3},"encoding":{"x":{"field":"tx","type":"quantitative"},"y":{"field":"y","type":"quantitative"}}},
   {"data":{"name":"pv"},"transform":[{"filter":"datum.p=='a2'"}],"mark":{"type":"text","fontSize":19,"align":"left","baseline":"alphabetic","dx":-28,"dy":-3},"encoding":{"x":{"field":"tx","type":"quantitative"},"y":{"field":"y","type":"quantitative"},"text":{"field":"t"}}}
  ]},
 {"width":215,"height":1,"data":{"values":[]},"mark":"point"},
 {"width":350,"height":282,"title":{"text":"b","dx":6,"dy":0},
  "layer":[
   {"data":{"name":"pts"},"transform":[{"filter":"datum.p=='b'"}],"mark":{"type":"circle","size":113,"opacity":1},
    "encoding":{"x":{"field":"x","type":"quantitative","scale":{"domain":[0.33,7.33],"nice":false,"zero":false},"axis":{"values":[2,5.65],"labelExpr":"datum.value<4?'Day 2':'Day 8'","title":null}},
     "y":{"field":"v","type":"quantitative","scale":{"domain":[0,8000],"nice":false},"axis":{"values":[0,1000,2000,3000,4000,5000,6000,7000,8000],"labelExpr":"datum.value%2000==0?datum.label:''","format":"d","title":"IFNγ (pg ml⁻¹)","titlePadding":30}},
     "color":{"field":"g","type":"nominal","scale":{"domain":["P","I","M"],"range":["#000000","#3953A4","#EE2A26"]},"legend":{"orient":"none","legendX":370,"legendY":12,"symbolType":"circle","symbolSize":180,"symbolStrokeWidth":0,"rowPadding":35,"labelOffset":6,"title":null,"labelExpr":"datum.value=='P'?'PBS':datum.value=='I'?'IL-12':'M-L₆-IL12'"}}}},
   {"data":{"name":"sm"},"transform":[{"filter":"datum.p=='b'"}],"mark":{"type":"tick","orient":"horizontal","size":33,"thickness":2},"encoding":{"x":{"field":"x","type":"quantitative"},"y":{"field":"m","type":"quantitative"},"color":{"field":"g","type":"nominal","legend":null}}},
   {"data":{"name":"sm"},"transform":[{"filter":"datum.p=='b'"}],"mark":{"type":"errorbar","ticks":true,"size":20,"thickness":2},"encoding":{"x":{"field":"x","type":"quantitative"},"y":{"field":"lo","type":"quantitative","title":"IFNγ (pg ml⁻¹)"},"y2":{"field":"hi"},"color":{"field":"g","type":"nominal","legend":null}}},
   {"data":{"name":"pv"},"transform":[{"filter":"datum.p=='b'"}],"mark":{"type":"rule","color":"#222","strokeWidth":1.6},"encoding":{"x":{"field":"x1","type":"quantitative"},"x2":{"field":"x2"},"y":{"field":"y","type":"quantitative"}}},
   {"data":{"name":"pv"},"transform":[{"filter":"datum.p=='b'"}],"mark":{"type":"text","text":"P","fontStyle":"italic","fontSize":19,"align":"right","baseline":"alphabetic","dx":-33,"dy":-3},"encoding":{"x":{"field":"tx","type":"quantitative"},"y":{"field":"y","type":"quantitative"}}},
   {"data":{"name":"pv"},"transform":[{"filter":"datum.p=='b'"}],"mark":{"type":"text","fontSize":19,"align":"left","baseline":"alphabetic","dx":-28,"dy":-3},"encoding":{"x":{"field":"tx","type":"quantitative"},"y":{"field":"y","type":"quantitative"},"text":{"field":"t"}}}
  ]}
 ]},
{"spacing":59,"resolve":{"scale":{"color":"independent"},"legend":{"color":"independent"}},
 "vconcat":[
 {"bounds":"flush","spacing":0,"resolve":{"scale":{"color":"independent"},"legend":{"color":"independent"}},
  "hconcat":[
  {"width":351,"height":280,
   "layer":[
    {"data":{"name":"pts"},"transform":[{"filter":"datum.p=='il6'"}],"mark":{"type":"circle","size":110,"opacity":1},
     "encoding":{"x":{"field":"x","type":"quantitative","scale":{"domain":[0.32,7.33],"nice":false,"zero":false},"axis":{"values":[2,5.67],"labelExpr":"datum.value<4?'Day 2':'Day 8'","title":null}},
      "y":{"field":"v","type":"quantitative","scale":{"domain":[0,50],"nice":false},"axis":{"values":[0,5,10,15,20,25,30,35,40,45,50],"labelExpr":"datum.value%10==0?datum.label:''","title":"IL-6 (pg ml⁻¹)","titlePadding":19}},
      "color":{"field":"g","type":"nominal","scale":{"domain":["P","I","M"],"range":["#000000","#3953A4","#EE2A26"]},"legend":null}}},
    {"data":{"name":"sm"},"transform":[{"filter":"datum.p=='il6'"}],"mark":{"type":"tick","orient":"horizontal","size":32,"thickness":2},"encoding":{"x":{"field":"x","type":"quantitative"},"y":{"field":"m","type":"quantitative"},"color":{"field":"g","type":"nominal","legend":null}}},
    {"data":{"name":"sm"},"transform":[{"filter":"datum.p=='il6'"}],"mark":{"type":"errorbar","ticks":true,"size":18,"thickness":2},"encoding":{"x":{"field":"x","type":"quantitative"},"y":{"field":"lo","type":"quantitative","title":"IL-6 (pg ml⁻¹)"},"y2":{"field":"hi"},"color":{"field":"g","type":"nominal","legend":null}}},
    {"data":{"name":"pv"},"transform":[{"filter":"datum.p=='il6'"}],"mark":{"type":"rule","color":"#222","strokeWidth":1.6},"encoding":{"x":{"field":"x1","type":"quantitative"},"x2":{"field":"x2"},"y":{"field":"y","type":"quantitative"}}},
    {"data":{"name":"pv"},"transform":[{"filter":"datum.p=='il6'"}],"mark":{"type":"text","text":"P","fontStyle":"italic","fontSize":19,"align":"right","baseline":"alphabetic","dx":-33,"dy":-3},"encoding":{"x":{"field":"tx","type":"quantitative"},"y":{"field":"y","type":"quantitative"}}},
    {"data":{"name":"pv"},"transform":[{"filter":"datum.p=='il6'"}],"mark":{"type":"text","fontSize":19,"align":"left","baseline":"alphabetic","dx":-28,"dy":-3},"encoding":{"x":{"field":"tx","type":"quantitative"},"y":{"field":"y","type":"quantitative"},"text":{"field":"t"}}}
   ]},
  {"width":206,"height":1,"data":{"values":[]},"mark":"point"},
  {"width":351,"height":280,
   "layer":[
    {"data":{"name":"pts"},"transform":[{"filter":"datum.p=='tnf'"}],"mark":{"type":"circle","size":110,"opacity":1},
     "encoding":{"x":{"field":"x","type":"quantitative","scale":{"domain":[0.33,7.34],"nice":false,"zero":false},"axis":{"values":[2,5.66],"labelExpr":"datum.value<4?'Day 2':'Day 8'","title":null}},
      "y":{"field":"v","type":"quantitative","scale":{"domain":[0,300],"nice":false},"axis":{"values":[0,50,100,150,200,250,300],"labelExpr":"datum.value%100==0?datum.label:''","title":"TNFα (pg ml⁻¹)","titlePadding":24}},
      "color":{"field":"g","type":"nominal","scale":{"domain":["P","I","M"],"range":["#000000","#3953A4","#EE2A26"]},"legend":null}}},
    {"data":{"name":"sm"},"transform":[{"filter":"datum.p=='tnf'"}],"mark":{"type":"tick","orient":"horizontal","size":30,"thickness":2},"encoding":{"x":{"field":"x","type":"quantitative"},"y":{"field":"m","type":"quantitative"},"color":{"field":"g","type":"nominal","legend":null}}},
    {"data":{"name":"sm"},"transform":[{"filter":"datum.p=='tnf'"}],"mark":{"type":"errorbar","ticks":true,"size":17,"thickness":2},"encoding":{"x":{"field":"x","type":"quantitative"},"y":{"field":"lo","type":"quantitative","title":"TNFα (pg ml⁻¹)"},"y2":{"field":"hi"},"color":{"field":"g","type":"nominal","legend":null}}},
    {"data":{"name":"pv"},"transform":[{"filter":"datum.p=='tnf'"}],"mark":{"type":"rule","color":"#222","strokeWidth":1.6},"encoding":{"x":{"field":"x1","type":"quantitative"},"x2":{"field":"x2"},"y":{"field":"y","type":"quantitative"}}},
    {"data":{"name":"pv"},"transform":[{"filter":"datum.p=='tnf'"}],"mark":{"type":"text","text":"P","fontStyle":"italic","fontSize":19,"align":"right","baseline":"alphabetic","dx":-33,"dy":-3},"encoding":{"x":{"field":"tx","type":"quantitative"},"y":{"field":"y","type":"quantitative"}}},
    {"data":{"name":"pv"},"transform":[{"filter":"datum.p=='tnf'"}],"mark":{"type":"text","fontSize":19,"align":"left","baseline":"alphabetic","dx":-28,"dy":-3},"encoding":{"x":{"field":"tx","type":"quantitative"},"y":{"field":"y","type":"quantitative"},"text":{"field":"t"}}}
   ]},
  {"width":161,"height":1,"data":{"values":[]},"mark":"point"},
  {"width":350,"height":280,
   "layer":[
    {"data":{"name":"pts"},"transform":[{"filter":"datum.p=='ccl'"}],"mark":{"type":"circle","size":110,"opacity":1},
     "encoding":{"x":{"field":"x","type":"quantitative","scale":{"domain":[0.34,7.34],"nice":false,"zero":false},"axis":{"values":[2,5.66],"labelExpr":"datum.value<4?'Day 2':'Day 8'","title":null}},
      "y":{"field":"v","type":"quantitative","scale":{"domain":[0,600],"nice":false},"axis":{"values":[0,200,400,600],"title":"CCL-2 (pg ml⁻¹)","titlePadding":14}},
      "color":{"field":"g","type":"nominal","scale":{"domain":["P","I","M"],"range":["#000000","#3953A4","#EE2A26"]},"legend":{"orient":"none","legendX":368,"legendY":-4,"symbolType":"circle","symbolSize":180,"symbolStrokeWidth":0,"rowPadding":35,"labelOffset":6,"title":null,"labelExpr":"datum.value=='P'?'PBS':datum.value=='I'?'IL-12':'M-L₆-IL12'"}}}},
    {"data":{"name":"sm"},"transform":[{"filter":"datum.p=='ccl'"}],"mark":{"type":"tick","orient":"horizontal","size":34,"thickness":2},"encoding":{"x":{"field":"x","type":"quantitative"},"y":{"field":"m","type":"quantitative"},"color":{"field":"g","type":"nominal","legend":null}}},
    {"data":{"name":"sm"},"transform":[{"filter":"datum.p=='ccl'"}],"mark":{"type":"errorbar","ticks":true,"size":19,"thickness":2},"encoding":{"x":{"field":"x","type":"quantitative"},"y":{"field":"lo","type":"quantitative","title":"CCL-2 (pg ml⁻¹)"},"y2":{"field":"hi"},"color":{"field":"g","type":"nominal","legend":null}}},
    {"data":{"name":"pv"},"transform":[{"filter":"datum.p=='ccl'"}],"mark":{"type":"rule","color":"#222","strokeWidth":1.6},"encoding":{"x":{"field":"x1","type":"quantitative"},"x2":{"field":"x2"},"y":{"field":"y","type":"quantitative"}}},
    {"data":{"name":"pv"},"transform":[{"filter":"datum.p=='ccl'"}],"mark":{"type":"text","text":"P","fontStyle":"italic","fontSize":19,"align":"right","baseline":"alphabetic","dx":-33,"dy":-3},"encoding":{"x":{"field":"tx","type":"quantitative"},"y":{"field":"y","type":"quantitative"}}},
    {"data":{"name":"pv"},"transform":[{"filter":"datum.p=='ccl'"}],"mark":{"type":"text","fontSize":19,"align":"left","baseline":"alphabetic","dx":-28,"dy":-3},"encoding":{"x":{"field":"tx","type":"quantitative"},"y":{"field":"y","type":"quantitative"},"text":{"field":"t"}}}
   ]}
  ]},
 {"spacing":9,"resolve":{"scale":{"color":"independent"},"legend":{"color":"independent"}},
  "vconcat":[
  {"bounds":"flush","spacing":0,"resolve":{"scale":{"color":"independent"},"legend":{"color":"independent"}},
   "hconcat":[
   {"width":351,"height":282,
    "layer":[
     {"data":{"name":"pts"},"transform":[{"filter":"datum.p=='alt'"}],"mark":{"type":"circle","size":110,"opacity":1},
      "encoding":{"x":{"field":"x","type":"quantitative","scale":{"domain":[0.32,7.34],"nice":false,"zero":false},"axis":{"values":[2,5.66],"labelExpr":"datum.value<4?'Day 3':'Day 9'","title":null}},
       "y":{"field":"v","type":"quantitative","scale":{"domain":[0,300],"nice":false},"axis":{"values":[0,50,100,150,200,250,300],"labelExpr":"datum.value%100==0?datum.label:''","title":"ALT (U L⁻¹)","titlePadding":8}},
       "color":{"field":"g","type":"nominal","scale":{"domain":["P","I","M"],"range":["#000000","#3953A4","#EE2A26"]},"legend":null}}},
     {"data":{"name":"sm"},"transform":[{"filter":"datum.p=='alt'"}],"mark":{"type":"tick","orient":"horizontal","size":32,"thickness":2},"encoding":{"x":{"field":"x","type":"quantitative"},"y":{"field":"m","type":"quantitative"},"color":{"field":"g","type":"nominal","legend":null}}},
     {"data":{"name":"sm"},"transform":[{"filter":"datum.p=='alt'"}],"mark":{"type":"errorbar","ticks":true,"size":19,"thickness":2},"encoding":{"x":{"field":"x","type":"quantitative"},"y":{"field":"lo","type":"quantitative","title":"ALT (U L⁻¹)"},"y2":{"field":"hi"},"color":{"field":"g","type":"nominal","legend":null}}},
     {"data":{"name":"pv"},"transform":[{"filter":"datum.p=='alt'"}],"mark":{"type":"rule","color":"#222","strokeWidth":1.6},"encoding":{"x":{"field":"x1","type":"quantitative"},"x2":{"field":"x2"},"y":{"field":"y","type":"quantitative"}}},
     {"data":{"name":"pv"},"transform":[{"filter":"datum.p=='alt'"}],"mark":{"type":"text","text":"P","fontStyle":"italic","fontSize":19,"align":"right","baseline":"alphabetic","dx":-33,"dy":-3},"encoding":{"x":{"field":"tx","type":"quantitative"},"y":{"field":"y","type":"quantitative"}}},
     {"data":{"name":"pv"},"transform":[{"filter":"datum.p=='alt'"}],"mark":{"type":"text","fontSize":19,"align":"left","baseline":"alphabetic","dx":-28,"dy":-3},"encoding":{"x":{"field":"tx","type":"quantitative"},"y":{"field":"y","type":"quantitative"},"text":{"field":"t"}}}
    ]},
   {"width":202,"height":1,"data":{"values":[]},"mark":"point"},
   {"width":350,"height":281,
    "layer":[
     {"data":{"name":"pts"},"transform":[{"filter":"datum.p=='ast'"}],"mark":{"type":"circle","size":110,"opacity":1},
      "encoding":{"x":{"field":"x","type":"quantitative","scale":{"domain":[0.33,7.33],"nice":false,"zero":false},"axis":{"values":[2,5.67],"labelExpr":"datum.value<4?'Day 3':'Day 9'","title":null}},
       "y":{"field":"v","type":"quantitative","scale":{"domain":[0,500],"nice":false},"axis":{"values":[0,50,100,150,200,250,300,350,400,450,500],"labelExpr":"datum.value%100==0?datum.label:''","title":"AST (U L⁻¹)","titlePadding":14}},
       "color":{"field":"g","type":"nominal","scale":{"domain":["P","I","M"],"range":["#000000","#3953A4","#EE2A26"]},"legend":null}}},
     {"data":{"name":"sm"},"transform":[{"filter":"datum.p=='ast'"}],"mark":{"type":"tick","orient":"horizontal","size":33,"thickness":2},"encoding":{"x":{"field":"x","type":"quantitative"},"y":{"field":"m","type":"quantitative"},"color":{"field":"g","type":"nominal","legend":null}}},
     {"data":{"name":"sm"},"transform":[{"filter":"datum.p=='ast'"}],"mark":{"type":"errorbar","ticks":true,"size":18,"thickness":2},"encoding":{"x":{"field":"x","type":"quantitative"},"y":{"field":"lo","type":"quantitative","title":"AST (U L⁻¹)"},"y2":{"field":"hi"},"color":{"field":"g","type":"nominal","legend":null}}},
     {"data":{"name":"pv"},"transform":[{"filter":"datum.p=='ast'"}],"mark":{"type":"rule","color":"#222","strokeWidth":1.6},"encoding":{"x":{"field":"x1","type":"quantitative"},"x2":{"field":"x2"},"y":{"field":"y","type":"quantitative"}}},
     {"data":{"name":"pv"},"transform":[{"filter":"datum.p=='ast'"}],"mark":{"type":"text","text":"P","fontStyle":"italic","fontSize":19,"align":"right","baseline":"alphabetic","dx":-33,"dy":-3},"encoding":{"x":{"field":"tx","type":"quantitative"},"y":{"field":"y","type":"quantitative"}}},
     {"data":{"name":"pv"},"transform":[{"filter":"datum.p=='ast'"}],"mark":{"type":"text","fontSize":19,"align":"left","baseline":"alphabetic","dx":-28,"dy":-3},"encoding":{"x":{"field":"tx","type":"quantitative"},"y":{"field":"y","type":"quantitative"},"text":{"field":"t"}}}
    ]},
   {"width":165,"height":1,"data":{"values":[]},"mark":"point"},
   {"width":351,"height":282,
    "layer":[
     {"data":{"name":"pts"},"transform":[{"filter":"datum.p=='amy'"}],"mark":{"type":"circle","size":106,"opacity":1},
      "encoding":{"x":{"field":"x","type":"quantitative","scale":{"domain":[0.34,7.36],"nice":false,"zero":false},"axis":{"values":[2,5.68],"labelExpr":"datum.value<4?'Day 3':'Day 9'","title":null}},
       "y":{"field":"v","type":"quantitative","scale":{"domain":[0,2000],"nice":false},"axis":{"values":[0,250,500,750,1000,1250,1500,1750,2000],"labelExpr":"datum.value%500==0?datum.label:''","format":"d","title":"Amylase (U L⁻¹)","titlePadding":13}},
       "color":{"field":"g","type":"nominal","scale":{"domain":["P","I","M"],"range":["#000000","#3953A4","#EE2A26"]},"legend":{"orient":"none","legendX":370,"legendY":64,"symbolType":"circle","symbolSize":180,"symbolStrokeWidth":0,"rowPadding":35,"labelOffset":6,"title":null,"labelExpr":"datum.value=='P'?'PBS':datum.value=='I'?'IL-12':'M-L₆-IL12'"}}}},
     {"data":{"name":"sm"},"transform":[{"filter":"datum.p=='amy'"}],"mark":{"type":"tick","orient":"horizontal","size":33,"thickness":2},"encoding":{"x":{"field":"x","type":"quantitative"},"y":{"field":"m","type":"quantitative"},"color":{"field":"g","type":"nominal","legend":null}}},
     {"data":{"name":"sm"},"transform":[{"filter":"datum.p=='amy'"}],"mark":{"type":"errorbar","ticks":true,"size":18,"thickness":2},"encoding":{"x":{"field":"x","type":"quantitative"},"y":{"field":"lo","type":"quantitative","title":"Amylase (U L⁻¹)"},"y2":{"field":"hi"},"color":{"field":"g","type":"nominal","legend":null}}},
     {"data":{"name":"pv"},"transform":[{"filter":"datum.p=='amy'"}],"mark":{"type":"rule","color":"#222","strokeWidth":1.6},"encoding":{"x":{"field":"x1","type":"quantitative"},"x2":{"field":"x2"},"y":{"field":"y","type":"quantitative"}}},
     {"data":{"name":"pv"},"transform":[{"filter":"datum.p=='amy'"}],"mark":{"type":"text","text":"P","fontStyle":"italic","fontSize":19,"align":"right","baseline":"alphabetic","dx":-33,"dy":-3},"encoding":{"x":{"field":"tx","type":"quantitative"},"y":{"field":"y","type":"quantitative"}}},
     {"data":{"name":"pv"},"transform":[{"filter":"datum.p=='amy'"}],"mark":{"type":"text","fontSize":19,"align":"left","baseline":"alphabetic","dx":-28,"dy":-3},"encoding":{"x":{"field":"tx","type":"quantitative"},"y":{"field":"y","type":"quantitative"},"text":{"field":"t"}}}
    ]}
   ]},
  {"bounds":"flush","spacing":0,"resolve":{"scale":{"color":"independent"},"legend":{"color":"independent"}},
   "hconcat":[
   {"width":186,"height":300,"title":{"text":"c","dx":5,"dy":-2},
    "layer":[
     {"data":{"values":[{}]},"mark":{"type":"rule","color":"#000","strokeWidth":2},"encoding":{"x":{"datum":0.32,"type":"quantitative"},"y":{"datum":0,"type":"quantitative"},"y2":{"datum":15}}},
     {"data":{"name":"pts"},"transform":[{"filter":"datum.p=='leu'"}],"mark":{"type":"circle","size":64,"opacity":1},
      "encoding":{"x":{"field":"x","type":"quantitative","scale":{"domain":[0.32,3.62],"nice":false,"zero":false},"axis":{"values":[1,2,3],"labelExpr":"['PBS','IL-12','M-L₆-IL12'][datum.value-1]","labelAngle":-45,"labelAlign":"right","labelBaseline":"middle","labelPadding":4,"title":null}},
       "y":{"field":"v","type":"quantitative","scale":{"domain":[0,16.02],"nice":false},"axis":{"values":[0,5,10,15],"domain":false,"title":"Leukocytes (10³ µl⁻¹)","titlePadding":16}},
       "color":{"field":"g","type":"nominal","scale":{"domain":["P","I","M"],"range":["#000000","#3953A4","#EE2A26"]},"legend":null}}},
     {"data":{"name":"sm"},"transform":[{"filter":"datum.p=='leu'"}],"mark":{"type":"tick","orient":"horizontal","size":38,"thickness":2},"encoding":{"x":{"field":"x","type":"quantitative"},"y":{"field":"m","type":"quantitative"},"color":{"field":"g","type":"nominal","legend":null}}},
     {"data":{"name":"sm"},"transform":[{"filter":"datum.p=='leu'"}],"mark":{"type":"errorbar","ticks":true,"size":21,"thickness":2},"encoding":{"x":{"field":"x","type":"quantitative"},"y":{"field":"lo","type":"quantitative","title":"Leukocytes (10³ µl⁻¹)"},"y2":{"field":"hi"},"color":{"field":"g","type":"nominal","legend":null}}},
     {"data":{"name":"pv"},"transform":[{"filter":"datum.p=='leu'"}],"mark":{"type":"rule","color":"#222","strokeWidth":1.6},"encoding":{"x":{"field":"x1","type":"quantitative"},"x2":{"field":"x2"},"y":{"field":"y","type":"quantitative"}}},
     {"data":{"name":"pv"},"transform":[{"filter":"datum.p=='leu'"}],"mark":{"type":"text","text":"P","fontStyle":"italic","fontSize":19,"align":"right","baseline":"alphabetic","dx":-33,"dy":-3},"encoding":{"x":{"field":"tx","type":"quantitative"},"y":{"field":"y","type":"quantitative"}}},
     {"data":{"name":"pv"},"transform":[{"filter":"datum.p=='leu'"}],"mark":{"type":"text","fontSize":19,"align":"left","baseline":"alphabetic","dx":-28,"dy":-3},"encoding":{"x":{"field":"tx","type":"quantitative"},"y":{"field":"y","type":"quantitative"},"text":{"field":"t"}}}
    ]},
   {"width":162,"height":1,"data":{"values":[]},"mark":"point"},
   {"width":186,"height":303,
    "layer":[
     {"data":{"values":[{}]},"mark":{"type":"rule","color":"#000","strokeWidth":2},"encoding":{"x":{"datum":0.34,"type":"quantitative"},"y":{"datum":0,"type":"quantitative"},"y2":{"datum":2}}},
     {"data":{"name":"pts"},"transform":[{"filter":"datum.p=='neu'"}],"mark":{"type":"circle","size":64,"opacity":1},
      "encoding":{"x":{"field":"x","type":"quantitative","scale":{"domain":[0.34,3.66],"nice":false,"zero":false},"axis":{"values":[1,2,3],"labelExpr":"['PBS','IL-12','M-L₆-IL12'][datum.value-1]","labelAngle":-45,"labelAlign":"right","labelBaseline":"middle","labelPadding":4,"title":null}},
       "y":{"field":"v","type":"quantitative","scale":{"domain":[0,2.149],"nice":false},"axis":{"values":[0,0.5,1,1.5,2],"format":".1f","domain":false,"title":"Neutrophils (10³ µl⁻¹)","titlePadding":21}},
       "color":{"field":"g","type":"nominal","scale":{"domain":["P","I","M"],"range":["#000000","#3953A4","#EE2A26"]},"legend":null}}},
     {"data":{"name":"sm"},"transform":[{"filter":"datum.p=='neu'"}],"mark":{"type":"tick","orient":"horizontal","size":38,"thickness":2},"encoding":{"x":{"field":"x","type":"quantitative"},"y":{"field":"m","type":"quantitative"},"color":{"field":"g","type":"nominal","legend":null}}},
     {"data":{"name":"sm"},"transform":[{"filter":"datum.p=='neu'"}],"mark":{"type":"errorbar","ticks":true,"size":21,"thickness":2},"encoding":{"x":{"field":"x","type":"quantitative"},"y":{"field":"lo","type":"quantitative","title":"Neutrophils (10³ µl⁻¹)"},"y2":{"field":"hi"},"color":{"field":"g","type":"nominal","legend":null}}},
     {"data":{"name":"pv"},"transform":[{"filter":"datum.p=='neu'"}],"mark":{"type":"rule","color":"#222","strokeWidth":1.6},"encoding":{"x":{"field":"x1","type":"quantitative"},"x2":{"field":"x2"},"y":{"field":"y","type":"quantitative"}}},
     {"data":{"name":"pv"},"transform":[{"filter":"datum.p=='neu'"}],"mark":{"type":"text","text":"P","fontStyle":"italic","fontSize":19,"align":"right","baseline":"alphabetic","dx":-33,"dy":-3},"encoding":{"x":{"field":"tx","type":"quantitative"},"y":{"field":"y","type":"quantitative"}}},
     {"data":{"name":"pv"},"transform":[{"filter":"datum.p=='neu'"}],"mark":{"type":"text","fontSize":19,"align":"left","baseline":"alphabetic","dx":-28,"dy":-3},"encoding":{"x":{"field":"tx","type":"quantitative"},"y":{"field":"y","type":"quantitative"},"text":{"field":"t"}}}
    ]},
   {"width":143,"height":1,"data":{"values":[]},"mark":"point"},
   {"width":189,"height":300,
    "layer":[
     {"data":{"values":[{}]},"mark":{"type":"rule","color":"#000","strokeWidth":2},"encoding":{"x":{"datum":0.31,"type":"quantitative"},"y":{"datum":2,"type":"quantitative"},"y2":{"datum":12}}},
     {"data":{"name":"pts"},"transform":[{"filter":"datum.p=='lym'"}],"mark":{"type":"circle","size":64,"opacity":1},
      "encoding":{"x":{"field":"x","type":"quantitative","scale":{"domain":[0.31,3.65],"nice":false,"zero":false},"axis":{"values":[1,2,3],"labelExpr":"['PBS','IL-12','M-L₆-IL12'][datum.value-1]","labelAngle":-45,"labelAlign":"right","labelBaseline":"middle","labelPadding":4,"title":null}},
       "y":{"field":"v","type":"quantitative","scale":{"domain":[2,12.7],"nice":false,"zero":false},"axis":{"values":[2,4,6,8,10,12],"domain":false,"title":"Lymphocytes (10³ µl⁻¹)","titlePadding":4}},
       "color":{"field":"g","type":"nominal","scale":{"domain":["P","I","M"],"range":["#000000","#3953A4","#EE2A26"]},"legend":null}}},
     {"data":{"name":"sm"},"transform":[{"filter":"datum.p=='lym'"}],"mark":{"type":"tick","orient":"horizontal","size":38,"thickness":2},"encoding":{"x":{"field":"x","type":"quantitative"},"y":{"field":"m","type":"quantitative"},"color":{"field":"g","type":"nominal","legend":null}}},
     {"data":{"name":"sm"},"transform":[{"filter":"datum.p=='lym'"}],"mark":{"type":"errorbar","ticks":true,"size":21,"thickness":2},"encoding":{"x":{"field":"x","type":"quantitative"},"y":{"field":"lo","type":"quantitative","title":"Lymphocytes (10³ µl⁻¹)"},"y2":{"field":"hi"},"color":{"field":"g","type":"nominal","legend":null}}},
     {"data":{"name":"pv"},"transform":[{"filter":"datum.p=='lym'"}],"mark":{"type":"rule","color":"#222","strokeWidth":1.6},"encoding":{"x":{"field":"x1","type":"quantitative"},"x2":{"field":"x2"},"y":{"field":"y","type":"quantitative"}}},
     {"data":{"name":"pv"},"transform":[{"filter":"datum.p=='lym'"}],"mark":{"type":"text","text":"P","fontStyle":"italic","fontSize":19,"align":"right","baseline":"alphabetic","dx":-33,"dy":-3},"encoding":{"x":{"field":"tx","type":"quantitative"},"y":{"field":"y","type":"quantitative"}}},
     {"data":{"name":"pv"},"transform":[{"filter":"datum.p=='lym'"}],"mark":{"type":"text","fontSize":19,"align":"left","baseline":"alphabetic","dx":-28,"dy":-3},"encoding":{"x":{"field":"tx","type":"quantitative"},"y":{"field":"y","type":"quantitative"},"text":{"field":"t"}}}
    ]},
   {"width":165,"height":1,"data":{"values":[]},"mark":"point"},
   {"width":549,"height":336,"title":{"text":"d","dx":-14,"dy":31},
    "layer":[
     {"data":{"name":"pts"},"transform":[{"filter":"datum.p=='d'"}],"mark":{"type":"circle","size":133,"opacity":1},
      "encoding":{"x":{"field":"x","type":"quantitative","scale":{"domain":[0.33,6.51],"nice":false,"zero":false},"axis":{"values":[1,2,3,4,5,6],"labelExpr":"['αCD4 + IL-12','αCD8 + IL-12','αNK1.1 + IL-12','αLy6G + IL-12','IgG + IL-12','IgG'][datum.value-1]","labelAngle":-45,"labelAlign":"right","labelBaseline":"middle","labelPadding":4,"title":null}},
       "y":{"field":"v","type":"quantitative","scale":{"domain":[0,10000],"nice":false},"axis":{"values":[0,2000,4000,6000,8000,10000],"format":"d","title":"IFNγ (pg ml⁻¹)"}},
       "color":{"field":"g","type":"nominal","scale":{"domain":["d1","d2","d3","d4","d5","d6"],"range":["#C64B9C","#5DB947","#EE2A26","#6B4C9E","#5CC5D4","#000000"]},"legend":null}}},
     {"data":{"name":"sm"},"transform":[{"filter":"datum.p=='d'"}],"mark":{"type":"tick","orient":"horizontal","size":58,"thickness":2},"encoding":{"x":{"field":"x","type":"quantitative"},"y":{"field":"m","type":"quantitative"},"color":{"field":"g","type":"nominal","legend":null}}},
     {"data":{"name":"sm"},"transform":[{"filter":"datum.p=='d'"}],"mark":{"type":"errorbar","ticks":true,"size":30,"thickness":2},"encoding":{"x":{"field":"x","type":"quantitative"},"y":{"field":"lo","type":"quantitative","title":"IFNγ (pg ml⁻¹)"},"y2":{"field":"hi"},"color":{"field":"g","type":"nominal","legend":null}}},
     {"data":{"name":"pv"},"transform":[{"filter":"datum.p=='d'"}],"mark":{"type":"rule","color":"#222","strokeWidth":1.6},"encoding":{"x":{"field":"x1","type":"quantitative"},"x2":{"field":"x2"},"y":{"field":"y","type":"quantitative"}}},
     {"data":{"name":"pv"},"transform":[{"filter":"datum.p=='d'"}],"mark":{"type":"text","text":"P","fontStyle":"italic","fontSize":19,"align":"right","baseline":"alphabetic","dx":-33,"dy":-3},"encoding":{"x":{"field":"tx","type":"quantitative"},"y":{"field":"y","type":"quantitative"}}},
     {"data":{"name":"pv"},"transform":[{"filter":"datum.p=='d'"}],"mark":{"type":"text","fontSize":19,"align":"left","baseline":"alphabetic","dx":-28,"dy":-3},"encoding":{"x":{"field":"tx","type":"quantitative"},"y":{"field":"y","type":"quantitative"},"text":{"field":"t"}}}
    ]}
   ]}
  ]}
 ]}
]
}
